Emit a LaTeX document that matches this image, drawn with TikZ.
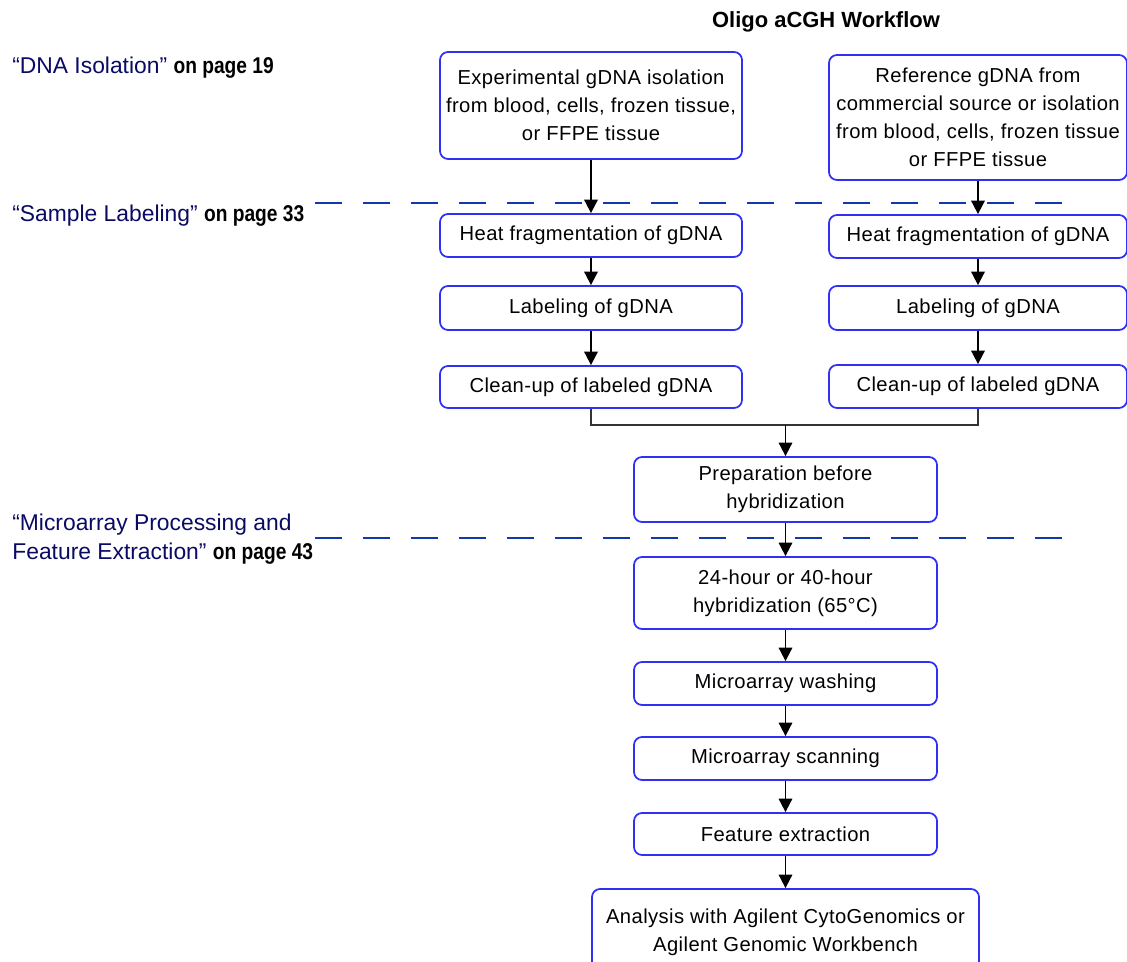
\documentclass[tikz,border=0pt]{standalone}
\usepackage{fontspec}
\setmainfont{Liberation Sans}
\newfontfamily\boxfont[LetterSpace=2]{Liberation Sans}
\newfontfamily\pagefont[FakeStretch=0.84]{Liberation Sans}
\usepackage{tikz}
\usetikzlibrary{arrows.meta}
\definecolor{navy}{RGB}{10,10,100}
\definecolor{rahmenblau}{RGB}{48,48,245}
\definecolor{strichblau}{RGB}{20,55,175}

\begin{document}
\begin{tikzpicture}[x=0.02cm, y=-0.02cm, % Pixel-Raster
  kasten/.style={draw=rahmenblau, line width=1pt, rounded corners=0.16cm, align=center, inner sep=0pt,
    font={\boxfont\fontsize{11.5}{16}\selectfont}},
  pfeil/.style={line width=1pt, -{Triangle[length=0.27cm, width=0.27cm]}},
  trenner/.style={strichblau, line width=1.5pt, dash pattern=on 0.54cm off 0.42cm},
  verweis/.style={anchor=base west, inner sep=0pt, align=left, text=navy, font={\fontsize{13}{17}\selectfont}}]
\useasboundingbox (0,0) rectangle (1127,962);
% Titel
\node[font=\bfseries\fontsize{12.5}{14}\selectfont] (titel) at (826,22) {Oligo aCGH Workflow};
% Verweise links
\node[verweis] (v1) at (12,74) {“DNA Isolation” {\pagefont\bfseries\color{black}on page 19}};
\node[verweis] (v2) at (12,222) {“Sample Labeling” {\pagefont\bfseries\color{black}on page 33}};
\node[verweis] (v3) at (12,560) {“Microarray Processing and\\Feature Extraction” {\pagefont\bfseries\color{black}on page 43}};
% Trennlinien
\draw[trenner] (315,203) -- (1065,203);
\draw[trenner] (315,538) -- (1065,538);
% linke Spalte
\node[kasten, minimum width=302*0.02cm, minimum height=107*0.02cm] (exp) at (591,105.5)
  {Experimental gDNA isolation\\from blood, cells, frozen tissue,\\or FFPE tissue};
\node[kasten, minimum width=302*0.02cm, minimum height=43*0.02cm] (heatL) at (591,235.5) {Heat fragmentation of gDNA};
\node[kasten, minimum width=302*0.02cm, minimum height=44*0.02cm] (labL) at (591,308) {Labeling of gDNA};
\node[kasten, minimum width=302*0.02cm, minimum height=42*0.02cm] (cleanL) at (591,387) {Clean-up of labeled gDNA};
% rechte Spalte
\node[kasten, minimum width=298*0.02cm, minimum height=125*0.02cm] (ref) at (978,117.5)
  {Reference gDNA from\\commercial source or isolation\\from blood, cells, frozen tissue\\or FFPE tissue};
\node[kasten, minimum width=298*0.02cm, minimum height=43*0.02cm] (heatR) at (978,236.5) {Heat fragmentation of gDNA};
\node[kasten, minimum width=298*0.02cm, minimum height=44*0.02cm] (labR) at (978,308) {Labeling of gDNA};
\node[kasten, minimum width=298*0.02cm, minimum height=43*0.02cm] (cleanR) at (978,386.5) {Clean-up of labeled gDNA};
% mittlere Spalte
\node[kasten, minimum width=303*0.02cm, minimum height=65*0.02cm] (prep) at (785.5,489.5) {Preparation before\\hybridization};
\node[kasten, minimum width=303*0.02cm, minimum height=72*0.02cm] (hyb) at (785.5,593) {24-hour or 40-hour\\hybridization (65°C)};
\node[kasten, minimum width=303*0.02cm, minimum height=43*0.02cm] (wash) at (785.5,683.5) {Microarray washing};
\node[kasten, minimum width=303*0.02cm, minimum height=43*0.02cm] (scan) at (785.5,758.5) {Microarray scanning};
\node[kasten, minimum width=303*0.02cm, minimum height=42*0.02cm] (feat) at (785.5,834) {Feature extraction};
\node[kasten, minimum width=387*0.02cm, minimum height=86*0.02cm] (ana) at (785.5,932)
  {Analysis with Agilent CytoGenomics or\\Agilent Genomic Workbench};
% Pfeile
\draw[pfeil] (exp) -- (heatL);
\draw[pfeil] (heatL) -- (labL);
\draw[pfeil] (labL) -- (cleanL);
\draw[pfeil] (ref) -- (heatR);
\draw[pfeil] (heatR) -- (labR);
\draw[pfeil] (labR) -- (cleanR);
\coordinate (zusammen) at (785.5,425);
\draw[line width=1pt, black!80] (cleanL.south) |- (zusammen) -| (cleanR.south);
\draw[pfeil] (zusammen) -- (prep);
\draw[pfeil] (prep) -- (hyb);
\draw[pfeil] (hyb) -- (wash);
\draw[pfeil] (wash) -- (scan);
\draw[pfeil] (scan) -- (feat);
\draw[pfeil] (feat) -- (ana);
\end{tikzpicture}
\end{document}
